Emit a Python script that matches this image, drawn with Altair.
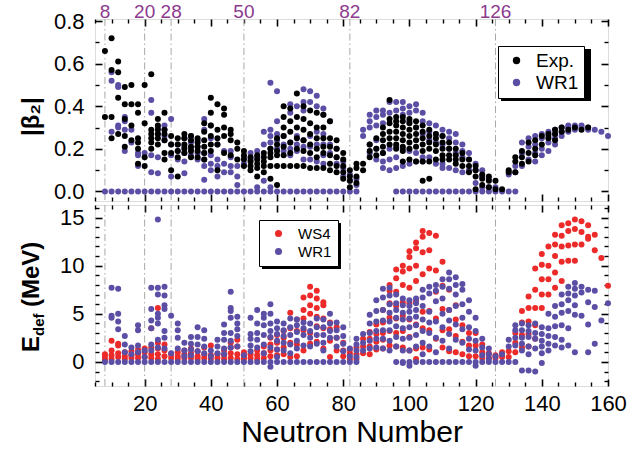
import altair as alt
import pandas as pd

PURPLE = "#5a4ea5"
RED = "#ec2a2a"
MAGIC_COLOR = "#8c3a8e"
FONT = "Liberation Sans"

# ---------------- data ----------------
magic_n = [8, 20, 28, 50, 82, 126]

# Top panel: |beta2|, experiment
exp_n = [8, 10, 12, 14, 16, 18, 20, 22, 24, 26, 28, 30, 32, 34, 36, 38, 40, 42, 44, 46, 48,
         50, 52, 54, 56, 58, 60, 62, 64, 66, 68, 70, 72, 74, 76, 78, 80, 82, 84, 86, 88,
         90, 92, 94, 96, 98, 100, 102, 104, 106, 108, 110, 112, 114, 116, 118, 120, 122,
         124, 126, 128, 130, 132, 134, 136, 138, 140, 142, 144, 146, 148, 150, 152, 154]
exp_b2 = [[0.66, 0.35], [0.72, 0.57, 0.35, 0.25], [0.61, 0.56, 0.44, 0.27],
          [0.49, 0.41, 0.34, 0.26, 0.21], [0.50, 0.41, 0.31, 0.24],
          [0.41, 0.37, 0.25, 0.23, 0.20, 0.13], [0.50, 0.32, 0.16, 0.12],
          [0.55, 0.29, 0.27, 0.25, 0.23, 0.20], [0.34, 0.31, 0.29, 0.27, 0.25, 0.22],
          [0.37, 0.29, 0.27, 0.24, 0.18, 0.15], [0.26, 0.22, 0.18, 0.10],
          [0.25, 0.22, 0.19, 0.16, 0.07], [0.27, 0.25, 0.22, 0.20, 0.18],
          [0.26, 0.24, 0.21, 0.19, 0.16], [0.25, 0.23, 0.21, 0.19, 0.16],
          [0.32, 0.28, 0.24, 0.21, 0.18, 0.15], [0.44, 0.37, 0.31, 0.26, 0.22, 0.19],
          [0.41, 0.29, 0.25, 0.22, 0.10], [0.39, 0.36, 0.30, 0.26, 0.18],
          [0.29, 0.27, 0.24, 0.17], [0.23, 0.20, 0.15], [0.19, 0.17, 0.15, 0.12],
          [0.16, 0.14, 0.12, 0.10], [0.17, 0.15, 0.13, 0.11, 0.07],
          [0.18, 0.16, 0.14, 0.12, 0.09], [0.20, 0.18, 0.16, 0.12, 0.06],
          [0.25, 0.22, 0.19, 0.17, 0.12, 0.03], [0.40, 0.35, 0.30, 0.26, 0.21, 0.17, 0.12],
          [0.39, 0.33, 0.28, 0.23, 0.18, 0.12], [0.46, 0.35, 0.30, 0.25, 0.20, 0.12],
          [0.40, 0.34, 0.29, 0.24, 0.19, 0.12], [0.38, 0.32, 0.27, 0.22, 0.18, 0.11],
          [0.37, 0.30, 0.25, 0.20, 0.16, 0.11], [0.36, 0.30, 0.25, 0.21, 0.18, 0.11],
          [0.33, 0.25, 0.21, 0.17, 0.13, 0.10], [0.24, 0.20, 0.16, 0.12, 0.09],
          [0.18, 0.15, 0.12, 0.09, 0.06], [0.10, 0.07, 0.05, 0.02], [0.13, 0.11, 0.07, 0.04],
          [0.13, 0.10], [0.22, 0.19, 0.16], [0.25, 0.20, 0.17],
          [0.30, 0.27, 0.24, 0.21, 0.18], [0.43, 0.34, 0.32, 0.28, 0.25, 0.22],
          [0.35, 0.33, 0.31, 0.28, 0.25, 0.22, 0.20],
          [0.35, 0.33, 0.30, 0.27, 0.24, 0.21, 0.19, 0.14],
          [0.34, 0.32, 0.29, 0.26, 0.23, 0.20, 0.15], [0.33, 0.30, 0.27, 0.24, 0.21, 0.14],
          [0.31, 0.28, 0.25, 0.22, 0.19, 0.14, 0.05], [0.29, 0.26, 0.23, 0.20, 0.14, 0.06],
          [0.27, 0.25, 0.22, 0.19, 0.15], [0.26, 0.23, 0.20, 0.17, 0.15],
          [0.23, 0.20, 0.17, 0.15], [0.20, 0.17, 0.15, 0.13], [0.18, 0.15, 0.12],
          [0.15, 0.12, 0.09], [0.12, 0.10, 0.07, 0.01], [0.08, 0.06, 0.03],
          [0.07, 0.05, 0.02], [0.05, 0.01], [0.01], [0.10, 0.09], [0.16, 0.14, 0.09],
          [0.19, 0.16, 0.13], [0.23, 0.18, 0.14], [0.24, 0.20, 0.17], [0.26, 0.22],
          [0.27, 0.25], [0.29, 0.27, 0.24], [0.30, 0.28], [0.29], [0.30], [0.29], [0.30]]

# Top panel: |beta2|, WR1
wr1b_n = [8, 10, 12, 14, 16, 18, 20, 22, 24, 26, 28, 30, 32, 34, 36, 38, 40, 42, 44, 46, 48,
          50, 52, 54, 56, 58, 60, 62, 64, 66, 68, 70, 72, 74, 76, 78, 80, 82, 84, 86, 88,
          90, 92, 94, 96, 98, 100, 102, 104, 106, 108, 110, 112, 114, 116, 118, 120, 122,
          124, 126, 128, 130, 132, 134, 136, 138, 140, 142, 144, 146, 148, 150, 152, 154,
          156, 158, 160]
wr1_b2 = [[0], [0.56, 0.52, 0.28, 0], [0.50, 0.49, 0.31, 0.30, 0], [0.35, 0.33, 0.29, 0.19, 0],
          [0.29, 0.23, 0], [0.18, 0.17, 0.12, 0], [0.18, 0], [0.43, 0.37, 0.17, 0.09, 0],
          [0.30, 0.27, 0.16, 0.085, 0], [0.31, 0.29, 0.26, 0.24, 0], [0.34, 0.22, 0.17, 0.07, 0],
          [0.22, 0.19, 0.15, 0], [0.25, 0.21, 0.18, 0.14, 0.085, 0], [0.26, 0.23, 0.20, 0.17, 0],
          [0.24, 0.21, 0.18, 0.15, 0], [0.34, 0.29, 0.18, 0.15, 0.12, 0.055, 0],
          [0.31, 0.25, 0.17, 0.13, 0.10, 0], [0.22, 0.15, 0.12, 0.07, 0], [0.19, 0.13, 0.09, 0],
          [0.19, 0.16, 0.12, 0.09, 0], [0.12, 0.07, 0.03, 0], [0.16, 0.13, 0], [0.18, 0.15, 0],
          [0.19, 0.16, 0.02, 0], [0.28, 0.22, 0.05, 0], [0.51, 0.29, 0.26, 0.23, 0.20, 0.02, 0],
          [0.47, 0.33, 0.27, 0.24, 0.20, 0], [0.26, 0.22, 0.19, 0], [0.41, 0.37, 0.23, 0.20, 0.17, 0],
          [0.40, 0.26, 0.22, 0.19, 0], [0.48, 0.42, 0.38, 0.24, 0.21, 0.15, 0],
          [0.47, 0.42, 0.26, 0.21, 0.15, 0], [0.45, 0.40, 0.28, 0.22, 0.14, 0],
          [0.39, 0.36, 0.27, 0.22, 0.17, 0.13, 0], [0.33, 0.22, 0.18, 0], [0.20, 0.16, 0.13, 0],
          [0.14, 0.11, 0.07, 0], [0.08, 0.05, 0], [0.06, 0.03, 0], [0.29, 0.26],
          [0.36, 0.33, 0.30, 0.22, 0.18], [0.38, 0.35, 0.31, 0.24, 0.20, 0.15],
          [0.38, 0.36, 0.32, 0.18, 0.14, 0.11], [0.42, 0.37, 0.20, 0.15, 0.10],
          [0.42, 0.38, 0.21, 0.16, 0.11, 0], [0.42, 0.39, 0.36, 0.20, 0.12, 0],
          [0.40, 0.37, 0.33, 0.19, 0.13, 0], [0.41, 0.38, 0.30, 0.18, 0.14, 0],
          [0.37, 0.33, 0.27, 0.16, 0.14, 0], [0.32, 0.28, 0.24, 0.16, 0],
          [0.31, 0.27, 0.23, 0.13, 0], [0.29, 0.26, 0.22, 0.13, 0.11, 0],
          [0.28, 0.25, 0.20, 0.11, 0], [0.27, 0.23, 0.18, 0.10, 0], [0.22, 0.19, 0.16, 0.09, 0],
          [0.18, 0.15, 0.10, 0], [0.13, 0.10, 0.04, 0], [0.10, 0.07, 0.02, 0], [0.06, 0.02, 0],
          [0.02, 0], [0], [0.08, 0], [0.12, 0.09, 0], [0.23, 0.18, 0.12], [0.25, 0.21, 0.15],
          [0.26, 0.22, 0.18, 0.14], [0.27, 0.25, 0.20, 0.17], [0.28, 0.26, 0.23, 0.19],
          [0.29, 0.27, 0.25, 0.22], [0.30, 0.28, 0.26], [0.31, 0.30, 0.28], [0.31, 0.30, 0.29],
          [0.31, 0.30], [0.30, 0.29], [0.29], [0.28], [0.26]]

# Bottom panel: deformation energy (MeV), WS4
ws4_n = [8, 10, 12, 14, 16, 18, 20, 22, 24, 26, 28, 30, 32, 34, 36, 38, 40, 42, 44, 46, 48,
         50, 52, 54, 56, 58, 60, 62, 64, 66, 68, 70, 72, 74, 76, 78, 80, 82, 84, 86, 88,
         90, 92, 94, 96, 98, 100, 102, 104, 106, 108, 110, 112, 114, 116, 118, 120, 122,
         124, 126, 128, 130, 132, 134, 136, 138, 140, 142, 144, 146, 148, 150, 152, 154,
         156, 158, 160]
ws4_e = [[0.8, 0.5, 0.2], [2.2, 1.2, 0.7, 0.3], [1.9, 1.7, 0.9, 0.5], [1.0, 0.6, 0.3],
         [1.1, 0.7, 0.4], [1.3, 0.8, 0.4], [1.4, 1.0, 0.5], [3.5, 1.5, 0.8, 0.4],
         [5.6, 2.0, 1.4, 0.8, 0.3], [1.8, 1.2, 0.6], [0.8, 0.4], [1.0, 0.6, 0.3],
         [1.2, 0.8, 0.4], [1.4, 0.9, 0.4], [1.1, 0.6, 0.3], [1.5, 0.8, 0.4], [1.7, 0.7, 0.3],
         [0.8, 0.4], [1.2, 0.7, 0.3], [2.0, 1.5, 0.9, 0.4], [2.3, 1.6, 0.8, 0.3],
         [1.0, 0.6, 0.3], [0.8, 0.4], [1.2, 0.7, 0.3], [1.6, 0.9, 0.4], [2.5, 1.8, 1.2, 0.6],
         [2.8, 2.0, 1.3, 0.7], [3.2, 2.5, 1.5, 0.8], [5.1, 3.5, 2.0, 0.5], [4.4, 3.2, 1.8, 0.6],
         [6.7, 5.4, 4.5, 3.3, 1.2], [7.8, 6.9, 5.9, 5.0, 3.0, 1.9],
         [7.4, 6.6, 5.6, 4.7, 3.7, 2.1], [6.2, 5.9, 4.5, 3.5, 1.4], [4.1, 3.4, 2.2, 0.5],
         [3.6, 2.5, 1.2], [2.0, 1.2, 0.6], [1.3, 0.9, 0.3], [1.5, 0.8, 0.3], [2.4, 1.6, 0.9],
         [3.1, 2.4, 1.6, 0.8], [3.9, 2.9, 2.1, 1.3], [5.4, 4.1, 3.0, 2.3, 1.4],
         [8.0, 7.4, 6.1, 4.6, 3.2, 1.7], [9.6, 8.7, 7.3, 5.8, 4.5, 3.0, 1.6],
         [10.0, 9.4, 8.0, 6.2, 4.8, 3.2, 1.5], [11.5, 10.9, 9.7, 7.7, 6.1, 4.4, 2.6, 1.2],
         [12.4, 11.8, 10.0, 8.4, 6.3, 3.9, 1.4, 0.3], [13.6, 13.0, 11.4, 9.1, 5.2, 3.5, 1.5],
         [13.4, 11.6, 9.7, 5.3, 3.3, 1.3], [13.1, 9.5, 7.3, 4.5, 2.4],
         [10.4, 7.9, 5.5, 3.3, 1.5], [7.5, 5.4, 3.4, 1.1], [5.9, 4.4, 2.7, 1.0],
         [3.8, 2.1, 0.8], [3.0, 1.7, 0.6], [3.0, 1.7, 0.6], [1.8, 1.0, 0.4], [0.9, 0.4],
         [0.7, 0.4], [1.0, 0.5], [1.1, 0.5], [3.0, 2.0, 1.0], [5.3, 4.1, 2.8, 1.5],
         [6.8, 5.6, 4.2, 2.9, 1.6], [9.7, 7.5, 5.6, 3.8, 2.4], [11.2, 10.1, 8.6, 7.0, 5.6],
         [12.0, 10.0, 8.6, 7.0], [13.2, 12.2, 11.0, 9.3, 7.7], [14.2, 13.1, 12.0, 10.4, 8.4],
         [14.4, 13.6, 12.1, 10.5], [14.8, 13.8, 12.2, 10.5], [14.6, 13.5, 12.2],
         [14.2, 13.0, 12.8], [13.2, 11.6], [10.8], [7.9]]

# Bottom panel: deformation energy (MeV), WR1
wr1e_n = wr1b_n
wr1_e = [[0], [7.7, 4.8, 4.6, 0], [7.6, 5.0, 4.2, 3.4, 0], [2.7, 1.8, 1.0, 0], [1.5, 0.8, 0],
         [3.8, 3.3, 1.7, 1.0, 0], [1.2, 0.5, 0], [7.7, 5.5, 4.3, 3.5, 1.8, 1.2, 0],
         [14.8, 7.7, 7.0, 5.0, 4.6, 4.0, 2.3, 1.5, 0], [7.8, 6.9, 5.9, 5.5, 3.2, 2.5, 1.4, 0],
         [4.8, 0.9, 0], [4.0, 3.3, 2.5, 1.4, 0], [2.0, 1.2, 0.6, 0], [2.6, 1.9, 1.3, 0.7, 0],
         [3.6, 2.6, 1.8, 1.1, 0], [3.3, 2.4, 1.6, 0.9, 0], [1.2, 0.6, 0], [2.3, 1.6, 0.9, 0],
         [3.9, 3.0, 2.3, 1.4, 0.8, 0], [7.3, 5.6, 5.3, 4.6, 3.0, 2.2, 1.5, 0],
         [4.7, 4.0, 3.4, 2.7, 1.6, 0], [0.7, 0], [4.6, 2.9, 2.4, 1.7, 1.1, 0],
         [5.4, 4.0, 3.0, 2.3, 1.5, 0], [5.0, 4.6, 3.8, 2.8, 1.8, 0.9, 0],
         [6.0, 5.0, 4.0, 3.2, 2.6, 1.5, -0.5, 0], [4.2, 3.5, 2.9, 2.2, 1.3, 0.5, 0],
         [4.0, 3.3, 2.7, 2.0, 1.2, 0], [4.5, 3.6, 2.8, 1.8, 0.9, 0], [4.4, 3.8, 3.1, 2.2, 1.4, 0],
         [4.1, 3.5, 2.8, 1.7, 0], [4.0, 3.2, 2.5, 1.6, 0], [4.5, 3.6, 2.8, 1.9, 0],
         [4.4, 3.6, 2.8, 2.0, 1.2, 0], [5.0, 4.0, 3.2, 2.5, 0], [4.1, 3.3, 2.5, 1.6, 0],
         [3.6, 2.7, 1.9, 1.1, 0], [1.4, 0.6, 0], [2.4, 1.8, 1.2, 0.5, 0], [2.9, 2.0, 1.2],
         [4.9, 4.0, 3.0, 2.2, 1.4], [6.4, 5.3, 4.2, 3.2, 2.4, 1.5],
         [7.6, 6.7, 5.4, 4.3, 3.3, 2.4, 1.4], [7.7, 6.9, 6.0, 5.1, 4.2, 3.3, 2.2, 1.2],
         [7.0, 6.1, 5.4, 4.6, 3.7, 2.6, 1.6, 0], [6.6, 5.9, 5.1, 4.4, 3.5, 2.4, 1.2, -0.1, 0],
         [6.4, 5.8, 5.2, 4.5, 3.6, 2.5, 1.2, -0.4, 0], [6.6, 6.1, 5.4, 4.7, 3.8, 2.8, 1.6, 0],
         [7.5, 6.7, 5.8, 4.4, 3.2, 2.0, 0.8, 0], [7.8, 7.1, 5.2, 4.1, 3.0, 1.6, 0],
         [8.0, 7.4, 6.3, 4.2, 2.5, 1.0, 0], [8.6, 7.8, 6.6, 5.0, 3.6, 2.2, 0],
         [9.3, 8.6, 7.6, 5.4, 4.3, 2.9, 1.4, 0], [8.8, 8.0, 7.0, 5.8, 3.9, 2.3, 0],
         [8.1, 7.5, 6.0, 4.6, 3.4, 2.0, 0], [6.4, 5.2, 3.6, 2.4, 1.3, 0],
         [4.6, 3.2, 2.2, 1.2, -0.4, 0], [2.4, 1.5, 0.7, 0], [1.4, 0.8, 0.3, 0], [0.6, 0],
         [0.8, 0], [2.3, 1.6, 0], [3.8, 3.3, 2.5, 1.7, 0], [4.0, 3.3, 2.5, 1.9, 1.2, -0.9],
         [3.8, 3.2, 2.6, 1.6, 0.8, -0.9], [4.0, 3.0, 2.4, 1.4, -1.0],
         [3.6, 2.9, 2.2, 1.6, 0.9, -0.1], [5.0, 3.5, 2.7, 1.9, 1.2],
         [5.8, 4.7, 3.7, 2.6, 1.7], [7.0, 6.0, 5.1, 3.8, 2.3, 1.5],
         [7.8, 7.1, 6.4, 5.3, 3.5, 1.7], [8.2, 7.6, 6.9, 5.9, 4.9, 1.0], [7.8, 7.2, 4.8],
         [7.5, 6.2, 3.9, 1.0], [7.4, 5.7, 1.9], [4.3], [6.1]]

x_ticks_major = [20, 40, 60, 80, 100, 120, 140, 160]
x_ticks_minor = [5, 10, 15, 25, 30, 35, 45, 50, 55, 65, 70, 75, 85, 90, 95, 105, 110, 115,
                 125, 130, 135, 145, 150, 155]
b2_ticks_major = [0.0, 0.2, 0.4, 0.6, 0.8]
b2_ticks_minor = [0.1, 0.3, 0.5, 0.7]
e_ticks_major = [0, 5, 10, 15]
e_ticks_minor = [-2, -1, 1, 2, 3, 4, 6, 7, 8, 9, 11, 12, 13, 14, 16]

# ---------------- layout constants ----------------
W = 513
H_TOP = 182
H_BOT = 181
X_DOM = [5, 160]
B2_DOM = [-0.045, 0.81]
E_DOM = [-2.5, 16.3]


def long_frame(ns, cols, label, vname):
    rows = []
    for n, vals in zip(ns, cols):
        for v in vals:
            rows.append({"N": n, vname: v, "series": label})
    return rows


top_df = pd.DataFrame(long_frame(wr1b_n, wr1_b2, "WR1", "v") + long_frame(exp_n, exp_b2, "Exp.", "v"))
bot_df = pd.DataFrame(long_frame(ws4_n, ws4_e, "WS4", "v") + long_frame(wr1e_n, wr1_e, "WR1", "v"))
magic_df = pd.DataFrame({"N": magic_n, "label": [str(m) for m in magic_n]})


def frame_layers(xscale, yscale, x_dom, y_dom, yt_major, yt_minor, H, x_labels):
    """Invisible layers that carry the axes: labels plus inward ticks on all four edges."""
    one = pd.DataFrame({"x": [(x_dom[0] + x_dom[1]) / 2], "y": [(y_dom[0] + y_dom[1]) / 2]})
    tk = dict(labels=False, domain=False, grid=False, title=None, tickColor="black")
    specs = []
    xa = (alt.Axis(orient="bottom", values=x_ticks_major, ticks=False, domain=False, grid=False,
                   title="Neutron Number", titleFontSize=30, titleFontWeight="normal",
                   titlePadding=3, labelFontSize=22, labelPadding=7, labelColor="black",
                   labelFlush=False)
          if x_labels else None)
    ya = alt.Axis(orient="left", values=yt_major, ticks=False, domain=False, grid=False, title=None,
                  labelFontSize=22, labelPadding=11, labelColor="black",
                  format=".1f" if yt_major[-1] < 1 else "d")
    specs.append((xa, ya))
    specs.append((alt.Axis(orient="top", offset=-H, values=x_ticks_major, tickSize=7, tickWidth=1.6, **tk),
                  alt.Axis(orient="right", offset=-W, values=yt_major, tickSize=7, tickWidth=1.6, **tk)))
    specs.append((alt.Axis(orient="top", offset=-H, values=x_ticks_minor, tickSize=4, tickWidth=1.4, **tk),
                  alt.Axis(orient="right", offset=-W, values=yt_minor, tickSize=4, tickWidth=1.4, **tk)))
    specs.append((alt.Axis(orient="bottom", offset=-H, values=x_ticks_major, tickSize=7, tickWidth=1.6, **tk),
                  alt.Axis(orient="left", offset=-W, values=yt_major, tickSize=7, tickWidth=1.6, **tk)))
    specs.append((alt.Axis(orient="bottom", offset=-H, values=x_ticks_minor, tickSize=4, tickWidth=1.4, **tk),
                  alt.Axis(orient="left", offset=-W, values=yt_minor, tickSize=4, tickWidth=1.4, **tk)))
    layers = []
    for xa_, ya_ in specs:
        layers.append(
            alt.Chart(one).mark_point(opacity=0, size=1).encode(
                x=alt.X("x:Q", scale=xscale, axis=xa_),
                y=alt.Y("y:Q", scale=yscale, axis=ya_),
            )
        )
    return layers


def rect_value(x1, x2, y1, y2, color):
    return alt.Chart(pd.DataFrame({"a": [0]})).mark_rect(color=color).encode(
        x=alt.value(x1), x2=alt.value(x2), y=alt.value(y1), y2=alt.value(y2))


def text_value(txt, x, y, size, angle=0, weight="bold", color="black", align="left"):
    return alt.Chart(pd.DataFrame({"t": [txt]})).mark_text(
        text=txt, fontSize=size, fontWeight=weight, angle=angle, align=align,
        baseline="alphabetic", color=color, font=FONT).encode(x=alt.value(x), y=alt.value(y))


xscale = alt.Scale(domain=X_DOM, nice=False, zero=False)
b2scale = alt.Scale(domain=B2_DOM, nice=False, zero=False)
escale = alt.Scale(domain=E_DOM, nice=False, zero=False)

# ---------------- top panel ----------------
magic_rules_top = alt.Chart(magic_df).mark_rule(
    color="#a8a8a8", strokeWidth=1, strokeDash=[7, 3, 1.5, 3]).encode(
    x=alt.X("N:Q", scale=xscale, axis=None))

top_points = alt.Chart(top_df).mark_circle(size=36, opacity=1).encode(
    x=alt.X("N:Q", scale=xscale, axis=None),
    y=alt.Y("v:Q", scale=b2scale, axis=None),
    color=alt.Color("series:N",
                    scale=alt.Scale(domain=["Exp.", "WR1"], range=["#000000", PURPLE]),
                    legend=alt.Legend(orient="none", legendX=403, legendY=27, title=None,
                                      labelFontSize=19, labelFont=FONT, labelColor="black",
                                      symbolType="circle", symbolSize=55, symbolStrokeWidth=0,
                                      symbolOffset=4, labelOffset=10, padding=5, rowPadding=2,
                                      strokeColor="black", fillColor="white")),
    order=alt.Order("series:N", sort="descending"),
)

magic_text = alt.Chart(magic_df).mark_text(
    fontSize=19, color=MAGIC_COLOR, baseline="alphabetic", font=FONT).encode(
    x=alt.X("N:Q", scale=xscale, axis=None), y=alt.value(-1), text="label:N")

top_shadow = rect_value(406, 496, 30, 82, "black")
top_title = text_value("|β₂|", -56, 117, 24, angle=270)

top = alt.layer(
    magic_rules_top, top_shadow, top_points, magic_text, top_title,
    *frame_layers(xscale, b2scale, X_DOM, B2_DOM, b2_ticks_major, b2_ticks_minor, H_TOP, False)
).resolve_axis(x="independent", y="independent").properties(width=W, height=H_TOP)

# ---------------- bottom panel ----------------
magic_rules_bot = alt.Chart(magic_df).mark_rule(
    color="#a8a8a8", strokeWidth=1, strokeDash=[7, 3, 1.5, 3]).encode(
    x=alt.X("N:Q", scale=xscale, axis=None))

bot_points = alt.Chart(bot_df).mark_circle(size=36, opacity=1).encode(
    x=alt.X("N:Q", scale=xscale, axis=None),
    y=alt.Y("v:Q", scale=escale, axis=None),
    color=alt.Color("series:N",
                    scale=alt.Scale(domain=["WS4", "WR1"], range=[RED, PURPLE]),
                    legend=alt.Legend(orient="none", legendX=164, legendY=15, title=None,
                                      labelFontSize=15, labelFont=FONT, labelColor="black",
                                      symbolType="circle", symbolSize=50, symbolStrokeWidth=0,
                                      symbolOffset=6, labelOffset=12, padding=6, rowPadding=2,
                                      strokeColor="black", fillColor="white")),
    order=alt.Order("series:N", sort="descending"),
)

bot_shadow = rect_value(167, 246, 18, 64, "black")
e_title = text_value("E", -56, 147, 24, angle=270)
e_sub = text_value("def", -51, 131, 15, angle=270)
e_unit = text_value("(MeV)", -56, 102, 24, angle=270)

bottom = alt.layer(
    magic_rules_bot, bot_shadow, bot_points, e_title, e_sub, e_unit,
    *frame_layers(xscale, escale, X_DOM, E_DOM, e_ticks_major, e_ticks_minor, H_BOT, True)
).resolve_axis(x="independent", y="independent").properties(width=W, height=H_BOT)

chart = alt.vconcat(top, bottom, spacing=0).resolve_scale(
    color="independent").resolve_legend(color="independent").properties(
    padding={"left": 19, "top": 2, "right": 5, "bottom": 0}
).configure_view(stroke="black", strokeWidth=2.8).configure(font=FONT).configure_axis(
    labelFont=FONT, titleFont=FONT, titleColor="black")

chart.save("out.html", embed_options={"renderer": "svg", "actions": False})
